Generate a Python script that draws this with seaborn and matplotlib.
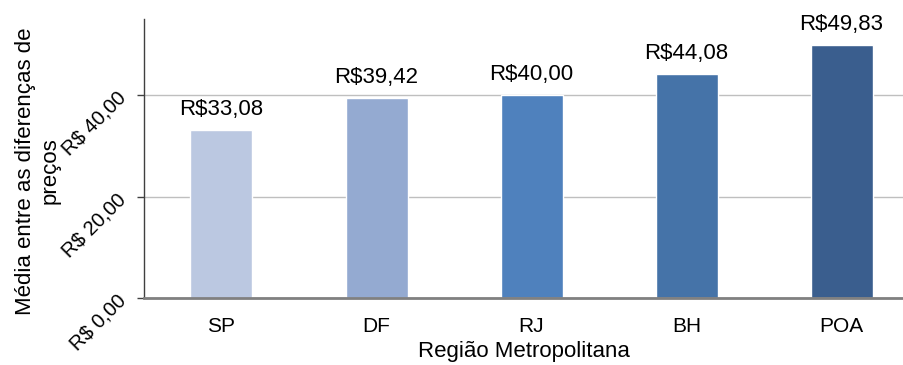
import seaborn as sns
import pandas as pd
from matplotlib import pyplot as plt

regioes = ["SP", "DF", "RJ", "BH", "POA"]
medias = [33.08, 39.42, 40.00, 44.08, 49.83]
rotulos = ["R$33,08", "R$39,42", "R$40,00", "R$44,08", "R$49,83"]
cores = ["#BBC8E1", "#94AAD1", "#4F81BD", "#4573A8", "#3A5E8E"]
yticks = [0, 20, 40]
ytick_labels = ["R$ 0,00", "R$ 20,00", "R$ 40,00"]

sns.set_style("white")
plt.rcParams["font.family"] = ["Liberation Sans", "DejaVu Sans"]
plt.rcParams["text.color"] = "black"
plt.rcParams["axes.labelcolor"] = "black"
plt.rcParams["xtick.color"] = "black"
plt.rcParams["ytick.color"] = "black"

df = pd.DataFrame({"regiao": regioes, "media": medias})

fig = plt.figure(figsize=(9.04, 3.65), dpi=100)
ax = fig.add_axes([144 / 904, 1 - 298 / 365, 775 / 904, 279 / 365])
sns.barplot(
    data=df, x="regiao", y="media", hue="regiao", palette=cores,
    width=0.4, legend=False, ax=ax, saturation=1,
)

ax.set_ylim(0, 55)
ax.set_xlim(-0.5, 4.5)
ax.set_yticks(yticks)
ax.set_yticklabels(ytick_labels, fontsize=14.5, rotation=45,
                   ha="right", va="center", rotation_mode="anchor")
ax.tick_params(axis="y", left=True, length=5, width=1, color="#404040", pad=10)
ax.tick_params(axis="x", bottom=False, labelsize=15, pad=10)
ax.set_axisbelow(True)
ax.yaxis.grid(True, color="#BFBFBF", linewidth=1)

for s in ["top", "right"]:
    ax.spines[s].set_visible(False)
ax.spines["left"].set_color("#404040")
ax.spines["left"].set_linewidth(1)
ax.spines["bottom"].set_color("#808080")
ax.spines["bottom"].set_linewidth(2)

for i, (v, t) in enumerate(zip(medias, rotulos)):
    ax.annotate(t, (i, v), xytext=(0, 11), textcoords="offset points",
                ha="center", va="baseline", fontsize=16)

ax.set_xlabel("Região Metropolitana", fontsize=16, labelpad=5)
ax.xaxis.set_label_coords(0.49, -0.155)
ax.set_ylabel("Média entre as diferenças de\npreços", fontsize=16)
ax.yaxis.set_label_coords(-0.108, 0.455)

fig.savefig("out.png", dpi=100)
